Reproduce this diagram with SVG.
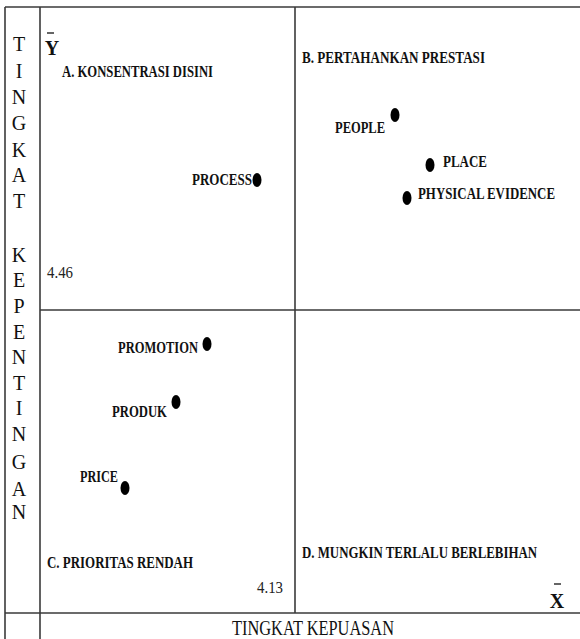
<svg xmlns="http://www.w3.org/2000/svg" width="580" height="639" viewBox="0 0 580 639">
<style>
.ln{stroke:#3a3a3a;stroke-width:1.6;fill:none}
.v{font-family:"Liberation Serif","Times New Roman",serif;font-size:20px;fill:#111;text-anchor:middle}
.lb{font-family:"Liberation Serif","Times New Roman",serif;font-size:16.5px;font-weight:bold;fill:#111}
.num{font-family:"Liberation Serif","Times New Roman",serif;font-size:17px;fill:#222}
.dot{fill:#000}
.bar{stroke:#111;stroke-width:1.3}
</style>
<rect width="580" height="639" fill="#fff"/>
<g id="grid">
<line class="ln" x1="5" y1="7" x2="580" y2="7"/>
<line class="ln" x1="5" y1="7" x2="5" y2="639"/>
<line class="ln" x1="40" y1="7" x2="40" y2="639"/>
<line class="ln" x1="295" y1="7" x2="295" y2="613"/>
<line class="ln" x1="40" y1="310" x2="580" y2="310"/>
<line class="ln" x1="5" y1="613" x2="580" y2="613"/>
</g>
<g id="y-axis-title">
<text class="v" x="19" y="51">T</text>
<text class="v" x="19" y="78">I</text>
<text class="v" x="19" y="104">N</text>
<text class="v" x="19" y="130">G</text>
<text class="v" x="19" y="157">K</text>
<text class="v" x="19" y="182">A</text>
<text class="v" x="19" y="208">T</text>
<text class="v" x="19" y="262">K</text>
<text class="v" x="19" y="287">E</text>
<text class="v" x="19" y="313">P</text>
<text class="v" x="19" y="339">E</text>
<text class="v" x="19" y="364">N</text>
<text class="v" x="19" y="390">T</text>
<text class="v" x="19" y="415">I</text>
<text class="v" x="19" y="441">N</text>
<text class="v" x="19" y="469">G</text>
<text class="v" x="19" y="496">A</text>
<text class="v" x="19" y="519">N</text>
</g>
<g id="y-bar">
<line class="bar" x1="47" y1="33" x2="54" y2="33"/>
<text class="v" x="52" y="55" style="font-size:20px;font-weight:bold">Y</text>
</g>
<g id="x-bar">
<line class="bar" x1="554" y1="584" x2="561" y2="584"/>
<text class="v" x="557" y="608" style="font-size:20px;font-weight:bold">X</text>
</g>
<g id="quadrant-a"><text class="lb" x="62" y="77" textLength="151" lengthAdjust="spacingAndGlyphs">A. KONSENTRASI DISINI</text></g>
<g id="quadrant-b"><text class="lb" x="302" y="63" textLength="183" lengthAdjust="spacingAndGlyphs">B. PERTAHANKAN PRESTASI</text></g>
<g id="quadrant-c"><text class="lb" x="47" y="568" textLength="146" lengthAdjust="spacingAndGlyphs">C. PRIORITAS RENDAH</text></g>
<g id="quadrant-d"><text class="lb" x="302" y="558" textLength="235" lengthAdjust="spacingAndGlyphs">D. MUNGKIN TERLALU BERLEBIHAN</text></g>
<g id="val-446"><text class="num" x="47" y="278" textLength="26" lengthAdjust="spacingAndGlyphs">4.46</text></g>
<g id="val-413"><text class="num" x="257" y="593" textLength="26" lengthAdjust="spacingAndGlyphs">4.13</text></g>
<g id="process">
<text class="lb" x="192" y="185" textLength="60" lengthAdjust="spacingAndGlyphs">PROCESS</text>
<ellipse class="dot" cx="257" cy="180" rx="4.5" ry="7"/>
</g>
<g id="people">
<text class="lb" x="335" y="133" textLength="50" lengthAdjust="spacingAndGlyphs">PEOPLE</text>
<ellipse class="dot" cx="395" cy="115" rx="4.5" ry="7"/>
</g>
<g id="place">
<text class="lb" x="443" y="167" textLength="44" lengthAdjust="spacingAndGlyphs">PLACE</text>
<ellipse class="dot" cx="430" cy="165" rx="4.5" ry="7"/>
</g>
<g id="physical-evidence">
<text class="lb" x="418" y="199" textLength="137" lengthAdjust="spacingAndGlyphs">PHYSICAL EVIDENCE</text>
<ellipse class="dot" cx="407" cy="198" rx="4.5" ry="7"/>
</g>
<g id="promotion">
<text class="lb" x="118" y="353" textLength="80" lengthAdjust="spacingAndGlyphs">PROMOTION</text>
<ellipse class="dot" cx="207" cy="344" rx="4.5" ry="7"/>
</g>
<g id="produk">
<text class="lb" x="112" y="417" textLength="55" lengthAdjust="spacingAndGlyphs">PRODUK</text>
<ellipse class="dot" cx="176" cy="402" rx="4.5" ry="7"/>
</g>
<g id="price">
<text class="lb" x="80" y="482" textLength="38" lengthAdjust="spacingAndGlyphs">PRICE</text>
<ellipse class="dot" cx="125" cy="488" rx="4.5" ry="7"/>
</g>
<g id="x-axis-title">
<text class="v" x="232" y="635" style="text-anchor:start;font-size:20px" textLength="162" lengthAdjust="spacingAndGlyphs">TINGKAT  KEPUASAN</text>
</g>
</svg>
